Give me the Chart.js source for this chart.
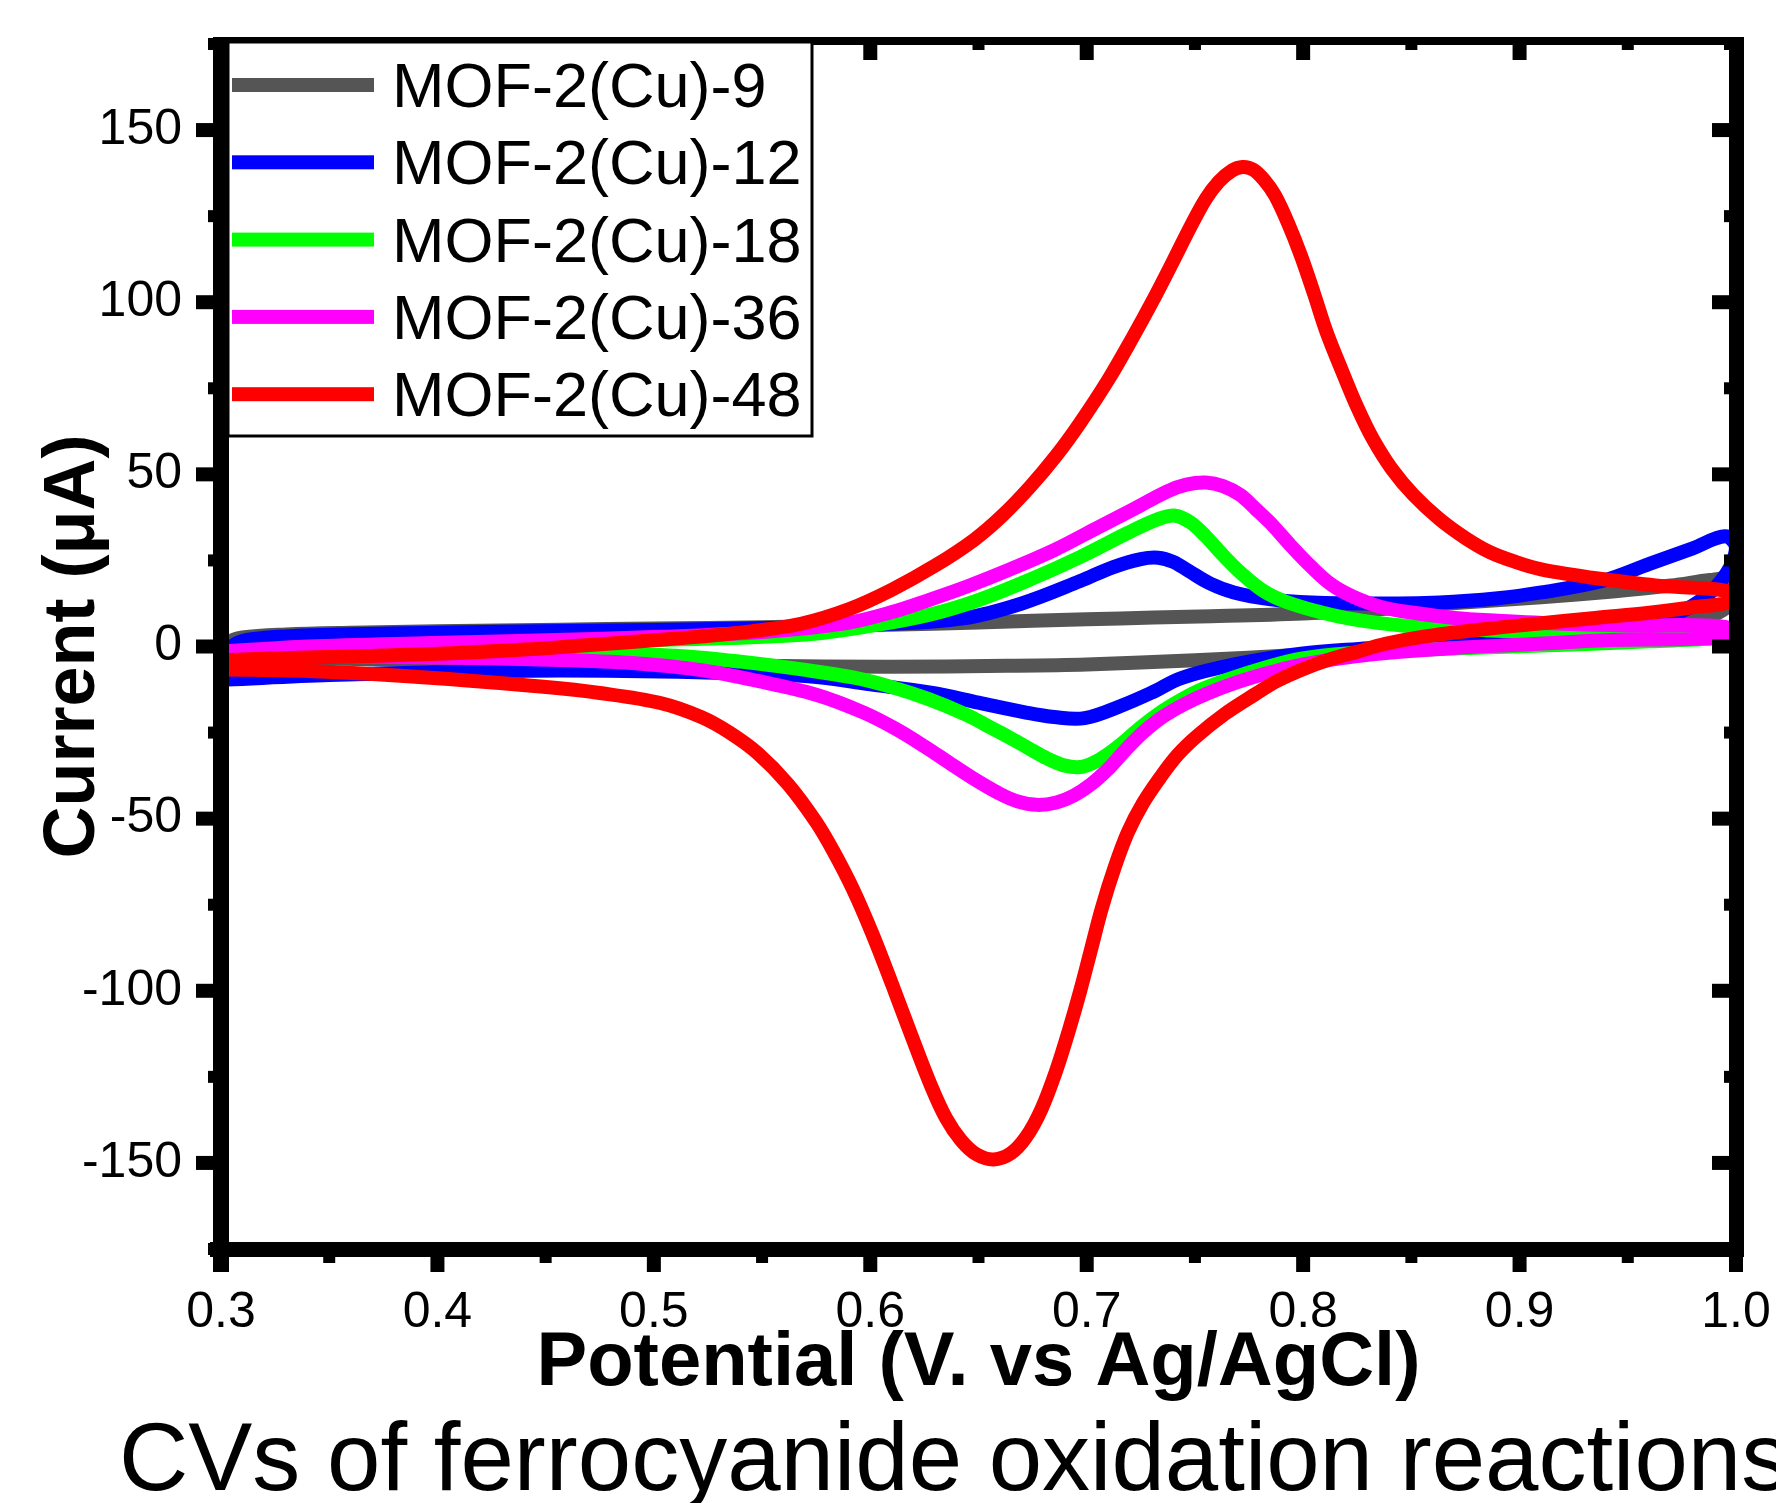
<!DOCTYPE html>
<html>
<head>
<meta charset="utf-8">
<title>CVs of ferrocyanide oxidation reactions</title>
<script src="https://cdn.jsdelivr.net/npm/chart.js@4.4.1/dist/chart.umd.min.js"></script>
<style>
    body { margin: 0; background: #fff; }
    canvas { display: block; }
</style>
</head>
<body>
<canvas id="cvChart" width="1776" height="1503"></canvas>
<script>
const seriesNames = ['MOF-2(Cu)-9', 'MOF-2(Cu)-12', 'MOF-2(Cu)-18', 'MOF-2(Cu)-36', 'MOF-2(Cu)-48'];
const seriesColors = ['#555555', '#0000ff', '#00ff00', '#ff00ff', '#ff0000'];

const xTicks = [0.3, 0.4, 0.5, 0.6, 0.7, 0.8, 0.9, 1.0];
const xMinorTicks = [0.35, 0.45, 0.55, 0.65, 0.75, 0.85, 0.95];
const yTicks = [-150, -100, -50, 0, 50, 100, 150];
const yMinorTicks = [-175, -125, -75, -25, 25, 75, 125, 175];

// potential (V vs Ag/AgCl) and current (uA): forward sweep, then the reverse sweep
const potential9 = [0.300, 0.303, 0.310, 0.330, 0.360, 0.400, 0.457, 0.500, 0.550, 0.608, 0.650, 0.700, 0.731, 0.752, 0.800, 0.840, 0.872, 0.910, 0.943, 0.970, 0.988, 0.997, 1.000, 0.995, 0.977, 0.950, 0.907, 0.860, 0.818, 0.799, 0.750, 0.700, 0.663, 0.608, 0.550, 0.500, 0.450, 0.400, 0.350, 0.310, 0.300];
const current9 = [-2.0, 1.0, 2.6, 3.5, 4.0, 4.4, 4.9, 5.2, 5.6, 6.3, 7.0, 7.9, 8.4, 8.7, 9.6, 11.0, 12.7, 14.3, 16.0, 17.7, 19.3, 19.6, 17.5, 11.0, 7.0, 4.5, 2.0, 0.0, -1.5, -2.4, -4.0, -5.2, -5.6, -5.9, -5.6, -5.0, -4.5, -4.0, -3.5, -3.0, -2.6];

const potential12 = [0.300, 0.302, 0.306, 0.315, 0.343, 0.400, 0.457, 0.500, 0.556, 0.600, 0.643, 0.670, 0.697, 0.712, 0.725, 0.733, 0.740, 0.747, 0.757, 0.768, 0.785, 0.804, 0.830, 0.863, 0.890, 0.910, 0.938, 0.960, 0.980, 0.995, 1.000, 0.998, 0.993, 0.986, 0.974, 0.950, 0.910, 0.870, 0.830, 0.799, 0.770, 0.744, 0.730, 0.716, 0.699, 0.685, 0.672, 0.650, 0.628, 0.600, 0.570, 0.520, 0.457, 0.400, 0.350, 0.303];
const current12 = [-8.5, -3.0, 0.5, 2.2, 3.3, 4.0, 4.5, 4.8, 5.4, 6.3, 8.2, 12.5, 19.0, 23.0, 25.4, 25.8, 24.6, 22.0, 18.3, 15.7, 13.7, 12.8, 12.5, 12.8, 14.0, 15.7, 19.0, 24.0, 28.5, 32.0, 29.0, 24.0, 19.0, 14.5, 10.0, 6.5, 3.5, 1.5, -0.5, -2.1, -5.0, -9.1, -13.4, -17.2, -20.8, -20.5, -19.2, -16.3, -13.4, -11.0, -8.6, -7.5, -7.0, -7.5, -8.3, -9.6];

const potential18 = [0.300, 0.350, 0.400, 0.457, 0.520, 0.570, 0.600, 0.627, 0.650, 0.674, 0.697, 0.719, 0.733, 0.741, 0.748, 0.755, 0.763, 0.771, 0.782, 0.792, 0.809, 0.827, 0.853, 0.907, 0.960, 0.996, 0.999, 0.996, 0.960, 0.907, 0.860, 0.820, 0.799, 0.783, 0.765, 0.751, 0.740, 0.731, 0.723, 0.716, 0.709, 0.703, 0.697, 0.690, 0.682, 0.673, 0.664, 0.654, 0.645, 0.627, 0.610, 0.592, 0.570, 0.540, 0.513, 0.480, 0.420, 0.350, 0.300];
const current18 = [-1.5, -0.5, 0.5, 1.3, 2.2, 3.5, 6.0, 9.2, 13.5, 19.5, 26.0, 33.0, 37.0, 38.0, 36.0, 32.0, 26.5, 21.5, 16.0, 13.0, 9.8, 7.5, 5.7, 4.2, 3.9, 4.0, 3.3, 2.5, 1.5, 0.2, -0.8, -2.0, -3.5, -6.0, -9.6, -13.0, -16.8, -20.5, -24.5, -28.3, -31.6, -33.8, -35.0, -34.6, -32.6, -29.5, -26.3, -23.0, -20.0, -15.3, -11.8, -9.0, -6.8, -4.4, -2.8, -2.2, -2.0, -2.0, -2.5];

const potential36 = [0.300, 0.340, 0.397, 0.450, 0.503, 0.550, 0.589, 0.610, 0.627, 0.645, 0.663, 0.685, 0.705, 0.722, 0.737, 0.746, 0.755, 0.763, 0.771, 0.778, 0.785, 0.794, 0.804, 0.813, 0.823, 0.836, 0.851, 0.870, 0.890, 0.920, 0.950, 0.995, 0.995, 0.942, 0.900, 0.871, 0.830, 0.800, 0.785, 0.770, 0.756, 0.745, 0.735, 0.726, 0.718, 0.710, 0.702, 0.694, 0.686, 0.677, 0.668, 0.659, 0.648, 0.637, 0.625, 0.612, 0.597, 0.575, 0.548, 0.521, 0.490, 0.457, 0.400, 0.350, 0.300];
const current36 = [-1.5, 0.0, 1.0, 1.8, 2.8, 4.2, 6.8, 10.0, 13.5, 17.5, 22.0, 28.0, 34.5, 40.0, 45.0, 47.0, 47.6, 46.6, 44.0, 40.0, 35.8, 29.5, 23.0, 18.0, 14.5, 11.5, 9.8, 8.3, 7.5, 6.6, 6.1, 5.7, 2.8, 1.9, 0.5, -0.4, -2.4, -5.2, -7.5, -10.3, -13.6, -16.8, -20.5, -25.0, -30.0, -35.5, -40.0, -43.3, -45.3, -46.0, -45.0, -42.5, -38.5, -34.0, -29.0, -24.0, -19.2, -14.0, -10.0, -6.8, -4.8, -3.9, -3.2, -2.8, -3.0];

const potential48 = [0.300, 0.340, 0.397, 0.440, 0.467, 0.500, 0.520, 0.545, 0.568, 0.590, 0.610, 0.630, 0.648, 0.661, 0.674, 0.686, 0.697, 0.710, 0.721, 0.731, 0.740, 0.748, 0.755, 0.761, 0.767, 0.772, 0.777, 0.782, 0.787, 0.793, 0.799, 0.805, 0.811, 0.818, 0.825, 0.832, 0.841, 0.851, 0.863, 0.875, 0.886, 0.898, 0.910, 0.925, 0.938, 0.965, 0.997, 0.997, 0.980, 0.960, 0.935, 0.908, 0.880, 0.855, 0.838, 0.825, 0.812, 0.799, 0.788, 0.778, 0.764, 0.751, 0.742, 0.734, 0.726, 0.719, 0.713, 0.707, 0.702, 0.697, 0.692, 0.686, 0.679, 0.672, 0.665, 0.657, 0.649, 0.642, 0.635, 0.628, 0.619, 0.610, 0.601, 0.592, 0.583, 0.575, 0.562, 0.548, 0.535, 0.522, 0.503, 0.475, 0.449, 0.400, 0.343, 0.300];
const current48 = [-4.0, -3.2, -2.2, -0.9, 0.3, 1.8, 2.8, 4.4, 6.6, 10.8, 16.5, 23.5, 31.0, 38.0, 46.5, 55.5, 65.0, 77.5, 89.5, 101.0, 112.0, 122.0, 130.0, 135.0, 138.2, 139.3, 138.5, 135.5, 131.0, 123.0, 113.5, 102.5, 91.0, 80.0, 69.5, 60.5, 51.5, 44.0, 37.0, 31.5, 27.5, 24.6, 22.4, 20.8, 19.6, 17.6, 16.0, 13.0, 11.4, 9.8, 8.3, 6.6, 4.8, 2.8, 0.8, -1.5, -3.8, -6.8, -10.0, -13.8, -19.5, -26.0, -31.5, -38.0, -45.5, -54.0, -64.0, -76.0, -88.0, -100.0, -111.0, -123.0, -134.5, -142.5, -147.2, -149.0, -147.5, -143.5, -137.0, -127.5, -113.0, -98.0, -83.5, -70.5, -59.5, -51.0, -40.0, -31.0, -25.0, -20.5, -16.4, -13.5, -11.7, -9.2, -7.2, -6.6];

const potentials = [potential9, potential12, potential18, potential36, potential48];
const currents = [current9, current12, current18, current36, current48];

Chart.defaults.font.family = "'Liberation Sans', Arial, sans-serif";
Chart.defaults.color = '#000';

// box frame with ticks: out on left/bottom, in on top/right
const frame = {
    id: 'frame',
    afterDatasetsDraw(chart) {
        const { ctx, chartArea: a, scales: { x, y } } = chart;
        ctx.save();
        ctx.fillStyle = '#000';
        ctx.fillRect(a.left - 8, a.top - 7, 16, a.bottom - a.top + 30);
        ctx.fillRect(a.right - 7, a.top - 7, 15, a.bottom - a.top + 15);
        ctx.fillRect(a.left - 8, a.top - 7, a.right - a.left + 16, 8);
        ctx.fillRect(a.left - 11, a.bottom - 7, a.right - a.left + 19, 15);

        xTicks.forEach(v => {
            const px = x.getPixelForValue(v);
            ctx.fillRect(px - 7, a.bottom + 8, 14, 15);
            ctx.fillRect(px - 7, a.top + 1, 14, 15);
        });
        xMinorTicks.forEach(v => {
            const px = x.getPixelForValue(v);
            ctx.fillRect(px - 6, a.bottom + 8, 12, 6);
            ctx.fillRect(px - 6, a.top + 1, 12, 5);
        });
        yTicks.forEach(v => {
            const py = y.getPixelForValue(v);
            ctx.fillRect(a.left - 25, py - 7, 17, 14);
            ctx.fillRect(a.right - 24, py - 7, 17, 14);
        });
        yMinorTicks.forEach(v => {
            const py = y.getPixelForValue(v);
            ctx.fillRect(a.left - 13, py - 6, 5, 12);
            ctx.fillRect(a.right - 12, py - 6, 5, 12);
        });
        ctx.restore();
    }
};

const legendBox = {
    id: 'legendBox',
    afterDraw(chart) {
        const { ctx, chartArea: a } = chart;
        const boxLeft = a.left + 7;
        const boxTop = a.top - 2;
        ctx.save();
        ctx.fillStyle = '#fff';
        ctx.fillRect(boxLeft, boxTop, 584, 394);
        ctx.strokeStyle = '#000';
        ctx.lineWidth = 3;
        ctx.strokeRect(boxLeft, boxTop, 584, 394);

        ctx.font = "63px 'Liberation Sans', Arial, sans-serif";
        ctx.textBaseline = 'alphabetic';
        chart.data.datasets.forEach((ds, i) => {
            const rowY = a.top + 41 + i * 77.3;
            ctx.fillStyle = ds.borderColor;
            ctx.fillRect(a.left + 11, rowY - 7, 142, 14);
            ctx.fillStyle = '#000';
            ctx.fillText(ds.label, a.left + 171, rowY + 22);
        });
        ctx.restore();
    }
};

const caption = {
    id: 'caption',
    afterDraw(chart) {
        const ctx = chart.ctx;
        ctx.save();
        ctx.font = "96px 'Liberation Sans', Arial, sans-serif";
        ctx.fillStyle = '#000';
        ctx.textBaseline = 'alphabetic';
        ctx.fillText('CVs of ferrocyanide oxidation reactions', 119, 1490);
        ctx.restore();
    }
};

new Chart(document.getElementById('cvChart'), {
    type: 'scatter',
    data: {
        datasets: seriesNames.map((name, i) => ({
            label: name,
            data: potentials[i].map((v, j) => ({ x: v, y: currents[i][j] })),
            borderColor: seriesColors[i],
            backgroundColor: seriesColors[i],
            borderWidth: 14,
            pointRadius: 0,
            showLine: true,
            tension: 0.35,
            borderCapStyle: 'round',
            borderJoinStyle: 'round',
            order: seriesNames.length - i
        }))
    },
    options: {
        responsive: false,
        animation: false,
        layout: { padding: { left: 0, right: 40, top: 44, bottom: 0 } },
        plugins: {
            legend: { display: false },
            tooltip: { enabled: false }
        },
        scales: {
            x: {
                type: 'linear',
                min: 0.3,
                max: 1.0,
                afterBuildTicks: scale => { scale.ticks = xTicks.map(v => ({ value: v })); },
                afterFit: scale => {
                    scale.height = 254;
                    scale.paddingLeft = 0;
                    scale.paddingRight = 0;
                },
                grid: { display: false },
                border: { display: false },
                ticks: {
                    font: { size: 50 },
                    padding: 26,
                    maxRotation: 0,
                    autoSkip: false,
                    callback: v => Number(v).toFixed(1)
                },
                title: {
                    display: true,
                    text: 'Potential (V. vs Ag/AgCl)',
                    font: { size: 76, weight: 'bold' },
                    padding: { top: 0, bottom: 93 }
                }
            },
            y: {
                type: 'linear',
                min: -175,
                max: 175,
                afterBuildTicks: scale => { scale.ticks = yTicks.map(v => ({ value: v })); },
                afterFit: scale => {
                    scale.width = 221;
                    scale.paddingTop = 0;
                    scale.paddingBottom = 0;
                },
                grid: { display: false },
                border: { display: false },
                ticks: {
                    font: { size: 50 },
                    padding: 31
                },
                title: {
                    display: true,
                    text: 'Current (μA)',
                    font: { size: 72, weight: 'bold' },
                    padding: { top: 31, bottom: 0 }
                }
            }
        }
    },
    plugins: [frame, legendBox, caption]
});
</script>
</body>
</html>
